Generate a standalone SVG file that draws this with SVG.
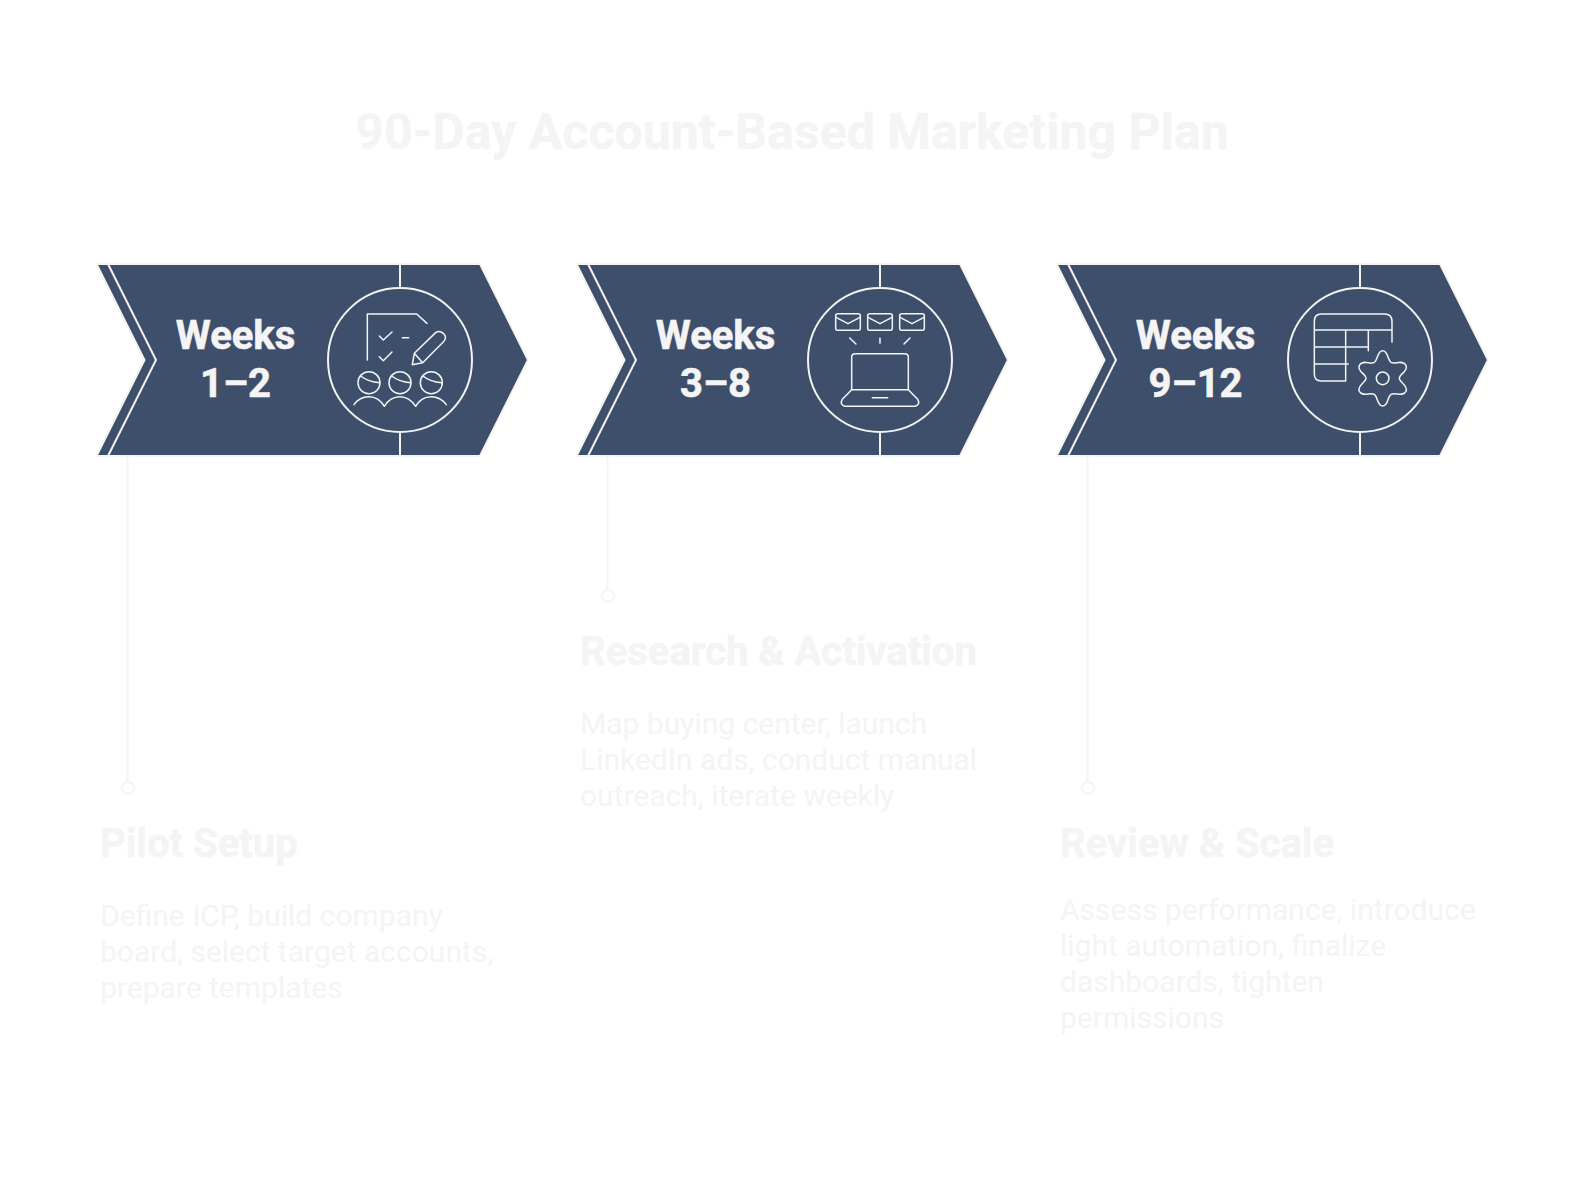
<svg xmlns="http://www.w3.org/2000/svg" width="1584" height="1180" viewBox="0 0 1584 1180">
<style>
text{font-family:Roboto,"Liberation Sans",sans-serif}
.title{font-size:50px;font-weight:700;fill:#f4f4f5;stroke:#f4f4f5;stroke-width:.6;text-anchor:middle}
.wk{font-size:40px;font-weight:700;fill:#f4f4f5;stroke:#f4f4f5;stroke-width:.6;text-anchor:middle}
.hd{font-size:40px;font-weight:700;fill:#f4f4f5;stroke:#f4f4f5;stroke-width:.6}
.bd{font-size:30px;fill:#f4f4f5}
.conn{fill:none;stroke:#f4f4f5;stroke-width:2}
.body{fill:#3e4f6b;stroke:#f4f4f5;stroke-width:2}
.ln{fill:none;stroke:#f4f4f5;stroke-width:2}
.ic{fill:none;stroke:#f4f4f5;stroke-width:4.5;stroke-linecap:round;stroke-linejoin:round}
</style>
<defs>
<g id="chev">
<polygon class="body" points="96.500,264 480,264 528,360 480,456 96.500,456 144.500,360"/>
<path class="ln" d="M108,264 L156,360 L108,456 M400,264 V288 M400,432 V456"/>
<circle class="ln" cx="400" cy="360" r="72"/>
</g>
</defs>
<text class="title" x="792" y="149">90-Day Account-Based Marketing Plan</text>
<g id="connectors">
<path class="conn" d="M127.500,457 V782"/><circle class="conn" cx="128" cy="788" r="6"/>
<path class="conn" d="M607.500,457 V590"/><circle class="conn" cx="608" cy="596" r="6"/>
<path class="conn" d="M1087.500,457 V782"/><circle class="conn" cx="1088" cy="788" r="6"/>
</g>
<g id="node-1">
<use href="#chev"/>
<text class="wk" x="235.500" y="349">Weeks</text><text class="wk" x="235.500" y="397">1–2</text>
<g transform="translate(320,280) scale(.3333)" class="ic">
<path d="M142,240 V102 H290 L321,130"/>
<path d="M178,168 L190,180 L216,156 M178,230 L190,242 L216,216 M247,173 H266"/>
<path d="M277,254 L283,220 L347,158 Q358,150 370,160 Q382,172 372,184 L308,248 Z M283,220 L308,248"/>
<circle cx="147" cy="308" r="33"/><path d="M122,288 Q145,306 179,308"/>
<circle cx="240" cy="308" r="33"/><path d="M215,288 Q238,306 272,308"/>
<circle cx="334" cy="308" r="33"/><path d="M309,288 Q331,306 365,308"/>
<path d="M102,374 Q118,350 147,350 Q176,350 193,379 Q210,350 240,350 Q268,350 287,379 Q304,350 333,350 Q362,350 379,374"/>
</g>
</g>
<g id="label-1">
<text class="hd" x="100" y="857">Pilot Setup</text>
<text class="bd" x="100" y="926">Define ICP, build company</text>
<text class="bd" x="100" y="962">board, select target accounts,</text>
<text class="bd" x="100" y="998">prepare templates</text>
</g>
<g id="node-2">
<use href="#chev" x="480"/>
<text class="wk" x="715.500" y="349">Weeks</text><text class="wk" x="715.500" y="397">3–8</text>
<g transform="translate(800,280) scale(.3333)" class="ic">
<rect x="107" y="101" width="74" height="50" rx="6"/><path d="M108,112 L144,131 L180,112"/>
<rect x="203" y="101" width="74" height="50" rx="6"/><path d="M204,112 L240,131 L276,112"/>
<rect x="299" y="101" width="74" height="50" rx="6"/><path d="M300,112 L336,131 L372,112"/>
<path d="M149,174 L168,192 M240,175 V190 M330,174 L312,192"/>
<path d="M155,329 V232 Q155,221 166,221 H314 Q325,221 325,232 V329 Z"/>
<path d="M155,329 L127,358 Q118,372 134,379 H346 Q362,372 353,358 L325,329"/>
<path d="M217,353 H263"/>
</g>
</g>
<g id="label-2">
<text class="hd" x="580" y="665">Research &amp; Activation</text>
<text class="bd" x="580" y="734">Map buying center, launch</text>
<text class="bd" x="580" y="770">LinkedIn ads, conduct manual</text>
<text class="bd" x="580" y="806">outreach, iterate weekly</text>
</g>
<g id="node-3">
<use href="#chev" x="960"/>
<text class="wk" x="1195.500" y="349">Weeks</text><text class="wk" x="1195.500" y="397">9–12</text>
<g transform="translate(1280,280) scale(.3333)" class="ic">
<path d="M336,186 V124 Q336,102 314,102 H124 Q103,102 103,124 V282 Q103,303 124,303 H197 V150 M103,150 H336 M103,201 H265 M103,252 H205 M265,150 V212"/>
<circle cx="308" cy="295" r="19"/>
<path d="M308,212 C325,212 322,240 333,247 C345,254 368,238 378,256 C386,274 358,282 358,295 C358,308 386,316 378,334 C368,352 345,336 333,343 C322,350 325,378 308,378 C291,378 294,350 283,343 C271,336 248,352 238,334 C230,316 258,308 258,295 C258,282 230,274 238,256 C248,238 271,254 283,247 C294,240 291,212 308,212 Z"/>
</g>
</g>
<g id="label-3">
<text class="hd" x="1060" y="857">Review &amp; Scale</text>
<text class="bd" x="1060" y="920">Assess performance, introduce</text>
<text class="bd" x="1060" y="956">light automation, finalize</text>
<text class="bd" x="1060" y="992">dashboards, tighten</text>
<text class="bd" x="1060" y="1028">permissions</text>
</g>
</svg>
